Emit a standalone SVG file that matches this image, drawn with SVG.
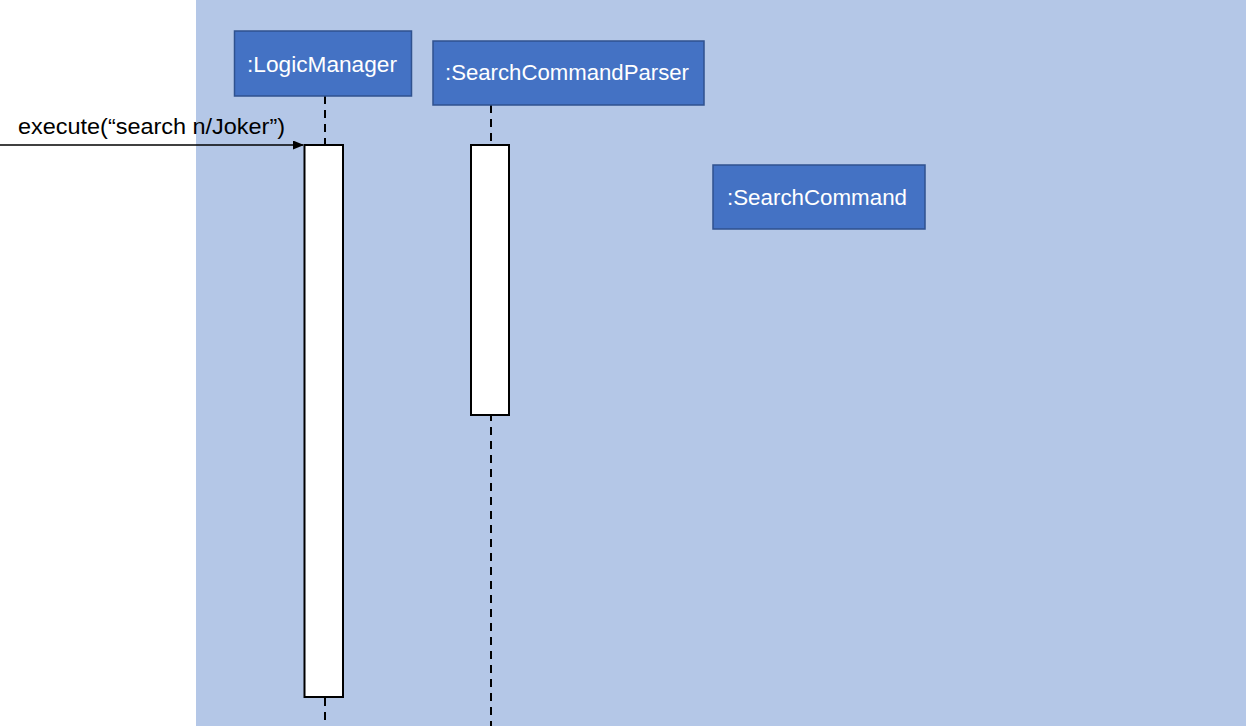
<svg xmlns="http://www.w3.org/2000/svg" width="1246" height="726" viewBox="0 0 1246 726">
<style>
.obj{fill:#4472C4;stroke:#2F528F;stroke-width:1.5}
.lbl{font-family:"Liberation Sans",Arial,sans-serif;font-size:22px;fill:#fff}
.life{stroke:#000;stroke-width:2;stroke-dasharray:8,6;fill:none}
.act{fill:#fff;stroke:#000;stroke-width:2}
.msg{font-family:"Liberation Sans",Arial,sans-serif;font-size:22px;fill:#000}
</style>
<defs>
<marker id="ah" markerWidth="11" markerHeight="9" refX="10" refY="4.5" orient="auto" markerUnits="userSpaceOnUse">
<path d="M0,0 L11,4.5 L0,9 Z" fill="#000"/>
</marker>
</defs>
<rect x="0" y="0" width="1246" height="726" fill="#fff"/>
<rect x="196" y="0" width="1050" height="726" fill="#B4C7E7"/>
<g id="connectors">
<line class="life" x1="325" y1="96" x2="325" y2="726"/>
<line class="life" x1="491" y1="105" x2="491" y2="726"/>
<line x1="0" y1="145" x2="303" y2="145" stroke="#000" stroke-width="1.5" marker-end="url(#ah)"/>
<text class="msg" x="18" y="134" textLength="267" lengthAdjust="spacingAndGlyphs">execute(“search n/Joker”)</text>
</g>
<g id="act-logic"><rect class="act" x="304.5" y="145" width="38.5" height="552"/></g>
<g id="act-parser"><rect class="act" x="471" y="145" width="38" height="270"/></g>
<g id="logicManager">
<rect class="obj" x="234.5" y="31" width="177" height="65"/>
<text class="lbl" x="247" y="72" textLength="150" lengthAdjust="spacingAndGlyphs">:LogicManager</text>
</g>
<g id="searchCommandParser">
<rect class="obj" x="433" y="41" width="271" height="64"/>
<text class="lbl" x="445" y="80" textLength="244" lengthAdjust="spacingAndGlyphs">:SearchCommandParser</text>
</g>
<g id="searchCommand">
<rect class="obj" x="713" y="165" width="212" height="64"/>
<text class="lbl" x="727" y="205" textLength="180" lengthAdjust="spacingAndGlyphs">:SearchCommand</text>
</g>
</svg>
